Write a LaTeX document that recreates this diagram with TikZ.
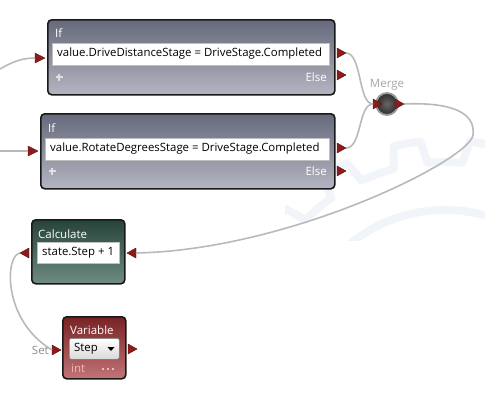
\documentclass[tikz,border=0pt]{standalone}
\usepackage{fontspec}
\setmainfont{Open Sans}
\usetikzlibrary{calc}
\definecolor{iftop}{HTML}{676A7C}
\definecolor{ifbot}{HTML}{B3B5C1}
\definecolor{caltop}{HTML}{27433A}
\definecolor{calbot}{HTML}{6E8C82}
\definecolor{vartop}{HTML}{782224}
\definecolor{varbot}{HTML}{C27476}
\definecolor{portred}{HTML}{8E1B1B}
\definecolor{portdark}{HTML}{5A0C0C}
\definecolor{wire}{HTML}{B9B9B9}
\definecolor{gearc}{HTML}{F1F4F8}
\definecolor{lbl}{HTML}{8C8C8C}
\definecolor{pinkt}{HTML}{EDB9BA}
\begin{document}
\begin{tikzpicture}[x=1pt,y=-1pt,
  box/.style={draw=black!90, line width=1.6pt, rounded corners=4pt, anchor=north west, inner sep=0pt},
  ifbox/.style={box, top color=iftop, bottom color=ifbot},
  calbox/.style={box, top color=caltop, bottom color=calbot},
  varbox/.style={box, top color=vartop, bottom color=varbot},
  field/.style={draw=black!25, line width=0.5pt, fill=white, anchor=north west, inner sep=0pt},
  drop/.style={draw=black!55, line width=0.6pt, rounded corners=2pt, top color=white, bottom color=black!15, anchor=north west, inner sep=0pt},
  ttl/.style={text=white, font=\fontsize{11.5}{13}\selectfont, anchor=west, inner sep=0pt},
  ftxt/.style={text=black, font=\fontsize{11.4}{13}\selectfont, anchor=west, inner sep=0pt},
  small/.style={font=\fontsize{11.5}{13}\selectfont, inner sep=0pt},
  port/.style={fill=portred, draw=portdark, line width=0.4pt},
  conn/.style={draw=wire, line width=1.6pt},
  plus/.style={draw=white!88!black, line width=1.8pt},
  dot/.style={fill=pinkt},
  gear/.style={draw=gearc, line width=8pt, line join=round}
]
\useasboundingbox (0,0) rectangle (485,400);

% background gear watermark
\begin{scope}
\clip (285,115) rectangle (485,240);
\coordinate (gc) at (445,360);
\draw[gear] ($(gc)+(-10:198)$) \foreach \a in {0,20,...,340} { -- ($(gc)+(\a-10:198)$) -- ($(gc)+(\a-5:198)$) -- ($(gc)+(\a-3.5:220)$) -- ($(gc)+(\a+3.5:220)$) -- ($(gc)+(\a+5:198)$) } -- cycle;
\draw[gear] (gc) circle[radius=150];
\end{scope}

% If 1
\node[ifbox, minimum width=287pt, minimum height=75pt] (if1) at (47,19) {};
\node[ttl] (if1t) at (55,33) {If};
\node[field, minimum width=277pt, minimum height=22pt] (if1f) at (52,43) {};
\node[ftxt] (if1x) at (57,54) {value.DriveDistanceStage = DriveStage.Completed};
\coordinate (if1p) at (59,77);
\draw[plus] ($(if1p)+(-3.5,0)$) -- ($(if1p)+(3.5,0)$) ($(if1p)+(0,-3.5)$) -- ($(if1p)+(0,3.5)$);
\node[small, text=white, anchor=east] (if1e) at (327,77) {Else};
\fill[port] (35,53) -- (45,58) -- (35,63) -- cycle; \coordinate (if1in) at (35,58);
\fill[port] (337,48) -- (346,53) -- (337,58) -- cycle; \coordinate (if1ok) at (346,53);
\fill[port] (337,70) -- (346,75) -- (337,80) -- cycle; \coordinate (if1el) at (346,75);

% If 2
\node[ifbox, minimum width=294pt, minimum height=75pt] (if2) at (40,113) {};
\node[ttl] (if2t) at (48,128) {If};
\node[field, minimum width=284pt, minimum height=22pt] (if2f) at (45,138) {};
\node[ftxt] (if2x) at (50,149) {value.RotateDegreesStage = DriveStage.Completed};
\coordinate (if2p) at (52,171);
\draw[plus] ($(if2p)+(-3.5,0)$) -- ($(if2p)+(3.5,0)$) ($(if2p)+(0,-3.5)$) -- ($(if2p)+(0,3.5)$);
\node[small, text=white, anchor=east] (if2e) at (327,171) {Else};
\fill[port] (28,146) -- (38,151) -- (28,156) -- cycle; \coordinate (if2in) at (28,151);
\fill[port] (337,143) -- (346,148) -- (337,153) -- cycle; \coordinate (if2ok) at (346,148);
\fill[port] (337,166) -- (346,171) -- (337,176) -- cycle; \coordinate (if2el) at (346,171);

% Merge
\node[circle, minimum size=22pt, inner sep=0pt, draw=black!40, line width=1.8pt, inner color=black!60, outer color=black!82] (merge) at (387,104) {};
\node[small, text=black!35, anchor=center] (mergel) at (387,85) {Merge};
\fill[port] (373,99) -- (382,104) -- (373,109) -- cycle; \coordinate (mgin) at (373,104);
\fill[port] (395,99) -- (404,104) -- (395,109) -- cycle; \coordinate (mgout) at (404,104);

% Calculate
\node[calbox, minimum width=93pt, minimum height=64pt] (calc) at (31,219) {};
\node[ttl] (calct) at (38,234) {Calculate};
\node[field, minimum width=82pt, minimum height=21pt] (calcf) at (37,242) {};
\node[ftxt] (calcx) at (42,253) {state.Step + 1};
\fill[port] (136,248) -- (127,253) -- (136,258) -- cycle; \coordinate (calcin) at (136,253);
\fill[port] (29,248) -- (20,253) -- (29,258) -- cycle; \coordinate (calcout) at (20,253);

% Variable
\node[varbox, minimum width=63pt, minimum height=62pt] (var) at (62,316) {};
\node[ttl] (vart) at (70,330) {Variable};
\node[drop, minimum width=50pt, minimum height=21pt] (vardd) at (69,338) {};
\node[ftxt] (varx) at (74,349) {Step};
\node[inner sep=0pt] (vararr) at (111,349) {\tikz[x=1pt,y=1pt]\fill (0,0) -- (7,0) -- (3.5,-4) -- cycle;};
\node[small, text=pinkt, anchor=west] (varint) at (71,368) {int};
\coordinate (vardots) at (108,369);
\fill[dot] ($(vardots)+(-6,-1)$) rectangle ($(vardots)+(-4,1)$);
\fill[dot] ($(vardots)+(-1,-1)$) rectangle ($(vardots)+(1,1)$);
\fill[dot] ($(vardots)+(4,-1)$) rectangle ($(vardots)+(6,1)$);
\fill[port] (52,345) -- (61,350) -- (52,355) -- cycle; \coordinate (varset) at (52,350);
\fill[port] (128,344) -- (137,349) -- (128,354) -- cycle; \coordinate (varout) at (137,349);
\node[small, text=lbl, anchor=east] (setl) at (49,350) {Set};

% connectors
\coordinate (l1) at (0,69);
\coordinate (l2) at (0,151);
\draw[conn] (l1) .. controls (12,62) and (22,58) .. (if1in);
\draw[conn] (l2) -- (if2in);
\draw[conn] (if1ok) .. controls (362,53) and (358,104) .. (mgin);
\draw[conn] (if2ok) .. controls (362,148) and (358,104) .. (mgin);
\coordinate (loop) at (473,135);
\draw[conn] (mgout) .. controls (450,102) and (476,112) .. (loop) .. controls (470,160) and (290,250) .. (calcin);
\draw[conn] (calcout) .. controls (5,255) and (2,320) .. (varset);
\end{tikzpicture}
\end{document}
